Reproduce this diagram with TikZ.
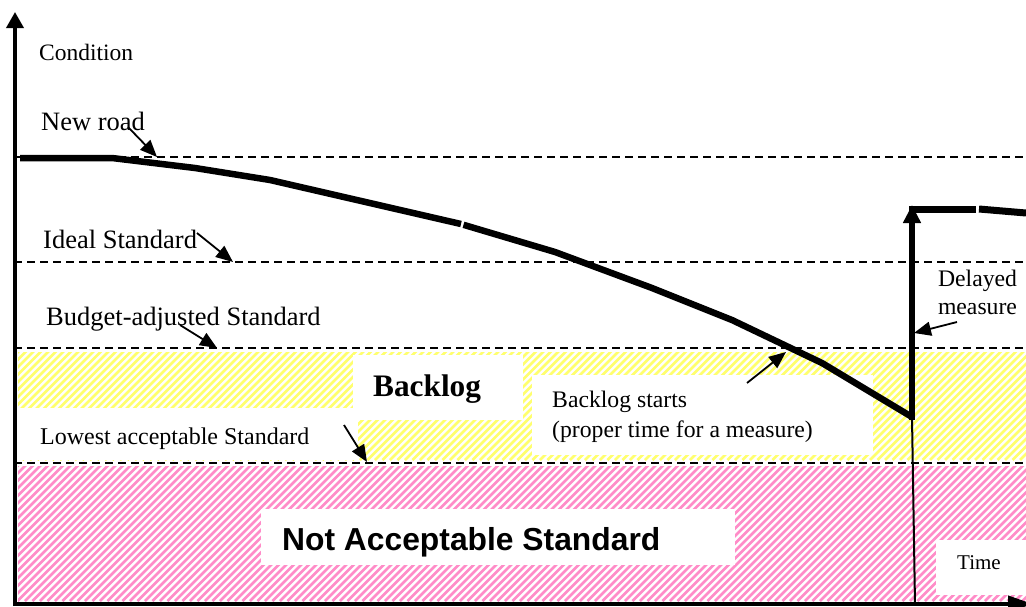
\documentclass[tikz,border=0pt]{standalone}
\usepackage{fontspec}
\setmainfont{Liberation Serif}
\newfontfamily\arialfont{Liberation Sans}
\usetikzlibrary{arrows.meta}
\definecolor{yellowhatch}{RGB}{255,255,110}
\definecolor{pinkhatch}{RGB}{255,140,200}
\begin{document}
\begin{tikzpicture}[x=1pt,y=-1pt,
  dashline/.style={dash pattern=on 8pt off 5pt, line width=1.4pt},
  curve/.style={line width=6.5pt, line join=miter},
  ptr/.style={line width=1.8pt, -{Triangle[length=17pt,width=14pt]}},
  lbl/.style={inner sep=0pt, anchor=base west},
  lblc/.style={inner sep=0pt, anchor=base},
  serifa/.style={font=\fontsize{26.5}{30}\selectfont},
  serifb/.style={font=\fontsize{23.7}{28}\selectfont},
]
\useasboundingbox (0,0) rectangle (1026,606);
\clip (0,0) rectangle (1026,606);
\fill[white] (0,0) rectangle (1026,606);

% hatched zones
\begin{scope}
  \clip (18,352) rectangle (1026,460);
  \foreach \i in {-120,-112.5,...,1030}
    \draw[yellowhatch, line width=2.6pt] (\i,460) -- ++(115,-115);
\end{scope}
\begin{scope}
  \clip (18,466) rectangle (1026,601);
  \foreach \i in {-140,-132.5,...,1030}
    \draw[pinkhatch, line width=2.6pt] (\i,601) -- ++(140,-140);
\end{scope}

% white label boxes
\fill[white] (353,355) rectangle (523,420);
\fill[white] (18,408) rectangle (358,460);
\fill[white] (532,375) rectangle (873,455);
\fill[white] (261,509) rectangle (735,565);
\fill[white] (936,540) rectangle (1026,595);

% level lines
\coordinate (newL) at (14,157);   \coordinate (newR) at (1026,157);
\coordinate (idealL) at (14,262); \coordinate (idealR) at (1026,262);
\coordinate (budL) at (14,348);   \coordinate (budR) at (1026,348);
\coordinate (lowL) at (14,463);   \coordinate (lowR) at (1026,463);
\draw[dashline] (newL) -- (newR);
\draw[dashline] (idealL) -- (idealR);
\draw[dashline] (budL) -- (budR);
\draw[dashline] (lowL) -- (lowR);

% axes
\coordinate (origin) at (15,606);
\coordinate (ytop) at (15,12);
\coordinate (xleft) at (13,604);
\coordinate (xright) at (1033,604);
\draw[line width=3.5pt, -{Triangle[length=16pt,width=17pt]}] (origin) -- (ytop);
\draw[line width=4pt, -{Triangle[length=25pt,width=16pt]}] (xleft) -- (xright);

% condition curve
\coordinate (c0) at (20,158);
\coordinate (c1) at (112,158);
\coordinate (c2) at (195,168);
\coordinate (c3) at (270,180);
\coordinate (c4) at (461,224);
\coordinate (c5) at (463.5,224.8);
\coordinate (c6) at (555,252);
\coordinate (c7) at (652,288);
\coordinate (c8) at (732,320);
\coordinate (c9) at (822,363);
\coordinate (c10) at (912,417);
\draw[curve] (c0) -- (c1) -- (c2) -- (c3) -- (c4);
\draw[curve] (c5) -- (c6) -- (c7) -- (c8) -- (c9) -- (c10);

% delayed measure
\coordinate (m0) at (912,420);
\coordinate (m1) at (912,205);
\coordinate (h0) at (909,209);
\coordinate (h1) at (976,209);
\coordinate (h2) at (979,209);
\coordinate (h3) at (1026,213);
\coordinate (t1) at (915,604);
\draw[line width=2pt] (c10) -- (t1);
\draw[line width=6pt, -{Triangle[length=18pt,width=17pt]}] (m0) -- (m1);
\draw[line width=7pt] (h0) -- (h1);
\draw[line width=7pt] (h2) -- (h3);

% texts
\node[lbl, font=\fontsize{23.5}{28}\selectfont] (cond) at (39,60) {Condition};
\node[lbl, serifa] (newroad) at (41,130) {New road};
\node[lbl, serifa] (ideal) at (43,248) {Ideal Standard};
\node[lbl, serifa] (budget) at (46,325) {Budget-adjusted Standard};
\node[lbl, font=\fontsize{24}{28}\selectfont] (lowest) at (40,444) {Lowest acceptable Standard};
\node[lbl, font=\fontsize{31.3}{36}\selectfont\bfseries] (backlog) at (373,396) {Backlog};
\node[lbl, serifb] (bs1) at (552,407) {Backlog starts};
\node[lbl, serifb] (bs2) at (552,437) {(proper time for a measure)};
\node[lblc, serifb] (dm1) at (977.5,286) {Delayed};
\node[lblc, serifb] (dm2) at (977.5,314) {measure};
\node[lbl, font=\fontsize{21}{25}\selectfont] (time) at (957,569) {Time};
\node[lbl, font=\arialfont\bfseries\fontsize{31.8}{36}\selectfont] (notacc) at (282,550) {Not Acceptable Standard};

% pointer arrows
\coordinate (a1s) at (128,127); \coordinate (a1e) at (157,157);
\coordinate (a2s) at (197,233); \coordinate (a2e) at (233,262);
\coordinate (a3s) at (180,325); \coordinate (a3e) at (217,348);
\coordinate (a4s) at (344,425); \coordinate (a4e) at (367,462);
\coordinate (a5s) at (747,383); \coordinate (a5e) at (786,352);
\coordinate (a6s) at (957,322); \coordinate (a6e) at (914,333);
\draw[ptr] (a1s) -- (a1e);
\draw[ptr] (a2s) -- (a2e);
\draw[ptr] (a3s) -- (a3e);
\draw[ptr] (a4s) -- (a4e);
\draw[ptr] (a5s) -- (a5e);
\draw[ptr] (a6s) -- (a6e);
\end{tikzpicture}
\end{document}
